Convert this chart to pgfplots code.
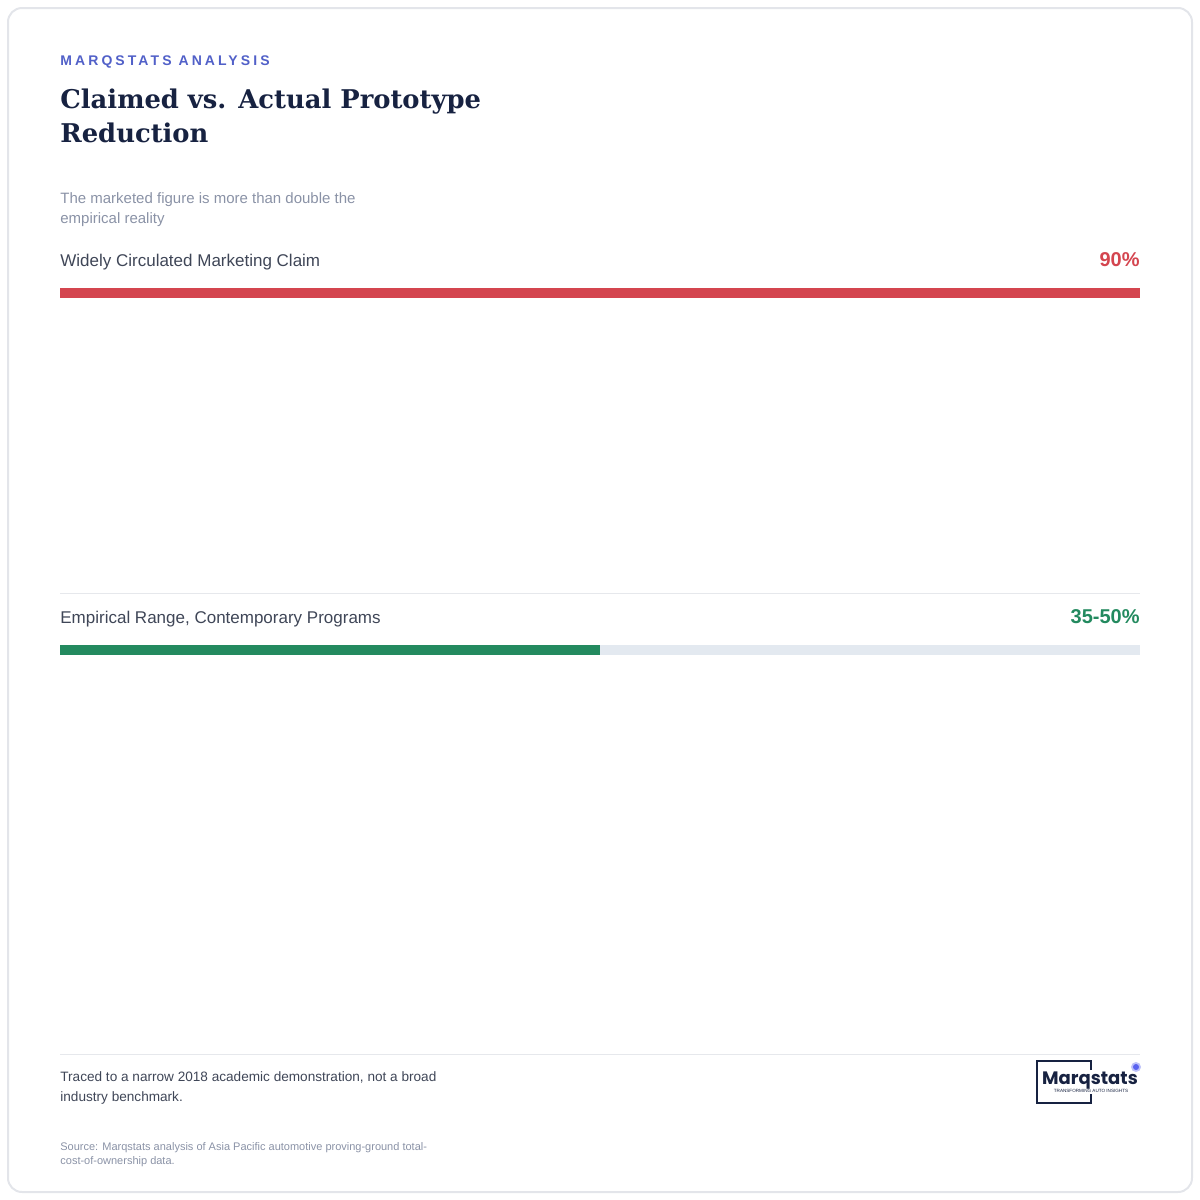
\documentclass[border=0pt]{standalone}
\usepackage{pgfplots}
\pgfplotsset{compat=1.18}
\usepackage{fontspec}
\setmainfont{Liberation Sans}
\newfontfamily\serif{DejaVu Serif}
\newfontfamily\spaced[LetterSpace=22]{Liberation Sans}
\newfontfamily\logofont{Poppins}

\definecolor{cardline}{HTML}{E3E5EA}
\definecolor{kicker}{HTML}{5160C8}
\definecolor{navy}{HTML}{172241}
\definecolor{labelgray}{HTML}{3F4657}
\definecolor{mutedgray}{HTML}{8A92A6}
\definecolor{claimred}{HTML}{D4454F}
\definecolor{realgreen}{HTML}{238A5F}
\definecolor{track}{HTML}{E3E9F0}
\definecolor{rule}{HTML}{E6E8EC}
\definecolor{dot}{HTML}{5A63F0}

\begin{document}
\begin{tikzpicture}[x=0.5pt,y=-0.5pt]
\path[use as bounding box] (0,0) rectangle (1200,1200);
\draw[cardline, line width=1pt, rounded corners=7pt] (8,8) rectangle (1192,1192);

% header
\node[anchor=base west, inner sep=0pt, text=kicker] at (60,65)
  {\spaced\bfseries\fontsize{7}{8}\selectfont MARQSTATS ANALYSIS};
\node[anchor=base west, inner sep=0pt, text=navy] at (60,108)
  {\serif\bfseries\fontsize{12.9}{16}\selectfont Claimed vs. Actual Prototype};
\node[anchor=base west, inner sep=0pt, text=navy] at (60,142)
  {\serif\bfseries\fontsize{12.9}{16}\selectfont Reduction};
\node[anchor=base west, inner sep=0pt, text=mutedgray] at (60,203)
  {\fontsize{7.5}{9}\selectfont The marketed figure is more than double the};
\node[anchor=base west, inner sep=0pt, text=mutedgray] at (60,223)
  {\fontsize{7.5}{9}\selectfont empirical reality};

% row labels
\node[anchor=base west, inner sep=0pt, text=labelgray] at (60,266)
  {\fontsize{8.5}{10}\selectfont Widely Circulated Marketing Claim};
\node[anchor=base east, inner sep=0pt, text=claimred] at (1140,266)
  {\bfseries\fontsize{10}{12}\selectfont 90\%};
\draw[rule, line width=0.5pt] (60,593) -- (1140,593);
\node[anchor=base west, inner sep=0pt, text=labelgray] at (60,623)
  {\fontsize{8.5}{10}\selectfont Empirical Range, Contemporary Programs};
\node[anchor=base east, inner sep=0pt, text=realgreen] at (1140,623)
  {\bfseries\fontsize{10}{12}\selectfont 35-50\%};

% bars (drawn length, 0-100 scale)
\begin{axis}[at={(30pt,-140pt)}, anchor=north west, scale only axis,
  width=540pt, height=190pt, xmin=0, xmax=100, ymin=280, ymax=660,
  y dir=reverse, hide axis, clip=false]
\addplot[xbar, bar width=5pt, bar shift=0pt, fill=claimred, draw=none]
  coordinates {(100,292.5)};
\addplot[xbar, bar width=5pt, bar shift=0pt, fill=track, draw=none]
  coordinates {(100,649.5)};
\addplot[xbar, bar width=5pt, bar shift=0pt, fill=realgreen, draw=none]
  coordinates {(50,649.5)};
\end{axis}

% footer
\draw[rule, line width=0.5pt] (60,1054) -- (1140,1054);
\node[anchor=base west, inner sep=0pt, text=labelgray] at (60,1081)
  {\fontsize{6.8}{8}\selectfont Traced to a narrow 2018 academic demonstration, not a broad};
\node[anchor=base west, inner sep=0pt, text=labelgray] at (60,1101)
  {\fontsize{6.8}{8}\selectfont industry benchmark.};
\node[anchor=base west, inner sep=0pt, text=mutedgray] at (60,1150)
  {\fontsize{5.5}{6.5}\selectfont Source: Marqstats analysis of Asia Pacific automotive proving-ground total-};
\node[anchor=base west, inner sep=0pt, text=mutedgray] at (60,1164)
  {\fontsize{5.5}{6.5}\selectfont cost-of-ownership data.};

% logo
\draw[navy, line width=0.6pt] (1091,1070) -- (1091,1061) -- (1037,1061) -- (1037,1103) -- (1091,1103) -- (1091,1094);
\node[anchor=base, inner sep=0pt, text=navy] at (1090,1084)
  {\logofont\bfseries\fontsize{9}{10}\selectfont Marqstats};
\node[anchor=base, inner sep=0pt, text=navy] at (1091,1092)
  {\fontsize{2.3}{3}\selectfont TRANSFORMING AUTO INSIGHTS};
\fill[dot!40!white] (1136,1067) circle (5);
\fill[dot] (1136,1067) circle (3);
\end{tikzpicture}
\end{document}
